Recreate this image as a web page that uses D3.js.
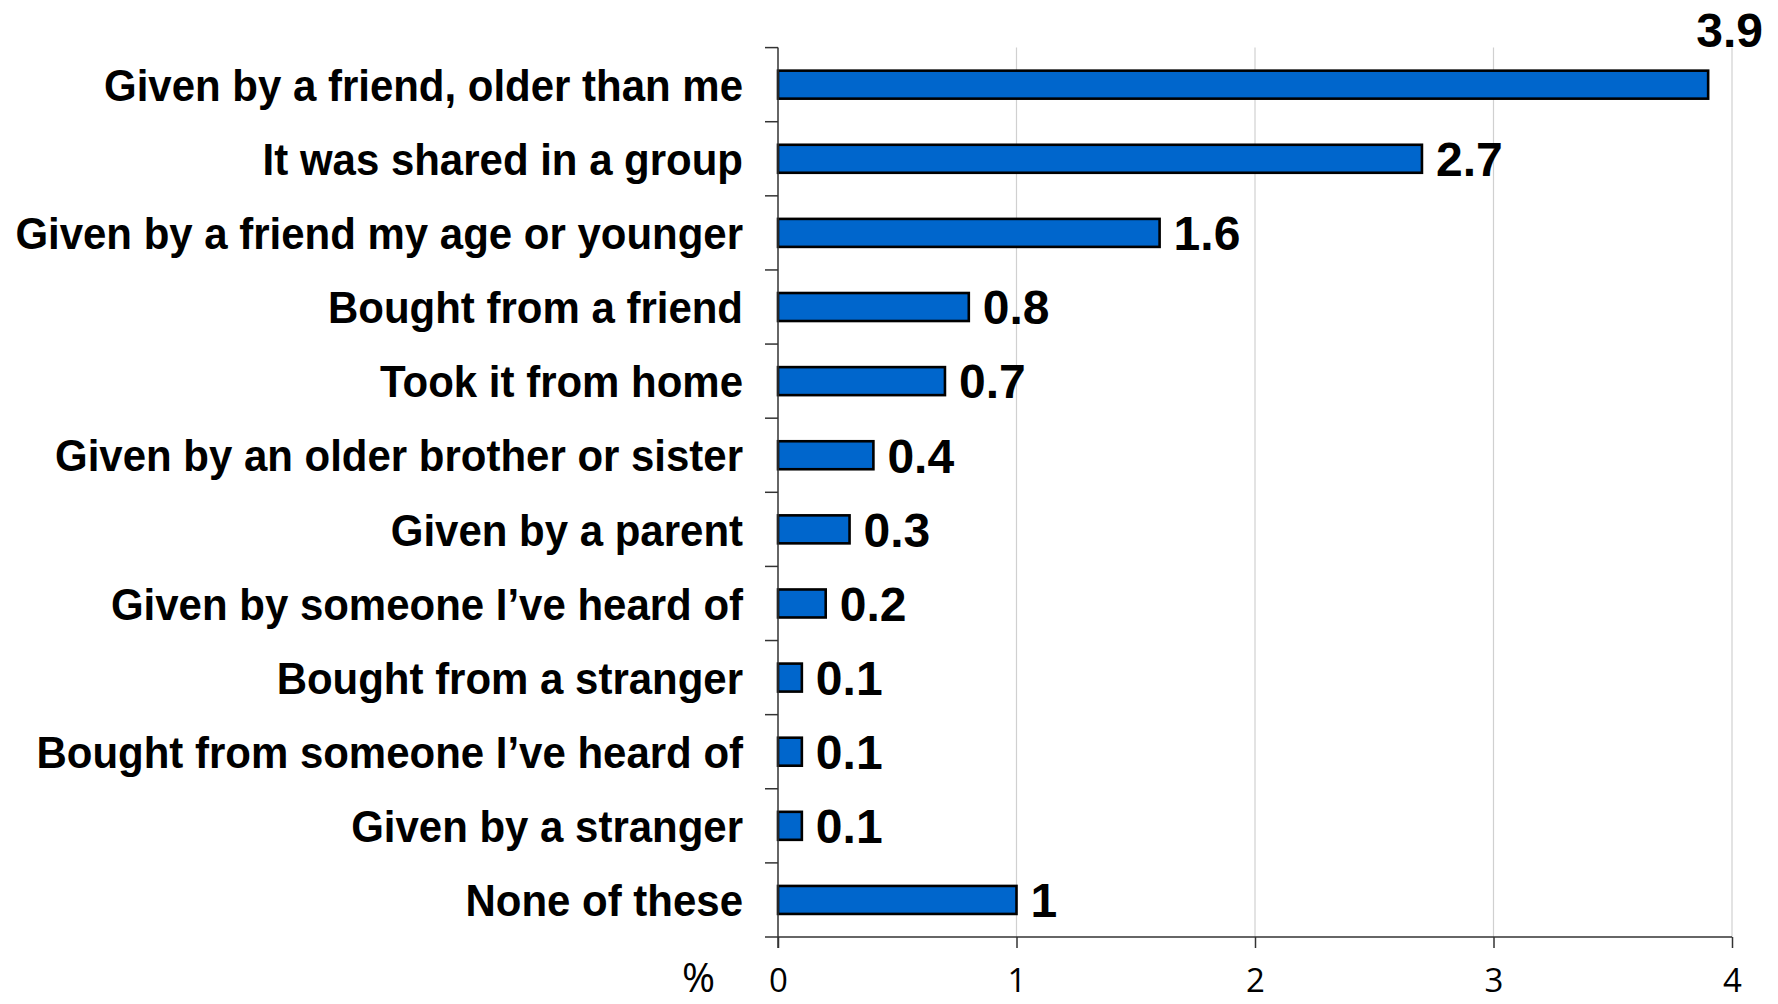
<!DOCTYPE html>
<html><head><meta charset="utf-8">
<script src="https://cdn.jsdelivr.net/npm/d3@7"></script>
<style>body{margin:0;background:#fff;} svg{display:block;}</style>
</head><body>
<svg id="chart" width="1778" height="1004"></svg>
<script>
const categories = [
  "Given by a friend, older than me",
  "It was shared in a group",
  "Given by a friend my age or younger",
  "Bought from a friend",
  "Took it from  home",
  "Given by an older brother or sister",
  "Given by a parent",
  "Given by someone I\u2019ve heard of",
  "Bought from a stranger",
  "Bought from someone I\u2019ve heard of",
  "Given by a stranger",
  "None of these"
];
const values = [3.9, 2.7, 1.6, 0.8, 0.7, 0.4, 0.3, 0.2, 0.1, 0.1, 0.1, 1];
const valueLabels = ["3.9","2.7","1.6","0.8","0.7","0.4","0.3","0.2","0.1","0.1","0.1","1"];
const xTicks = [0, 1, 2, 3, 4];
const axisUnit = "%";

const W = 1778, H = 1004;
const m = {left: 778, right: 46, top: 47.6, bottom: 67};
const FONT = "Liberation Sans, Arial, sans-serif";
const svg = d3.select("#chart");
const x = d3.scaleLinear().domain([0, 4]).range([m.left, W - m.right]);
const yb = d3.scaleBand().domain(categories).range([m.top, H - m.bottom]);

// gridlines
svg.append("g").selectAll("line").data(xTicks.filter(d => d > 0)).join("line")
  .attr("x1", d => x(d)).attr("x2", d => x(d))
  .attr("y1", m.top).attr("y2", H - m.bottom)
  .attr("stroke", "#d0d0d0").attr("stroke-width", 1.2);

// bars
svg.append("g").selectAll("rect").data(values).join("rect")
  .attr("x", x(0))
  .attr("y", (d, i) => yb(categories[i]) + yb.bandwidth() / 2 - 14)
  .attr("width", d => x(d) - x(0))
  .attr("height", 28)
  .attr("fill", "#0066CC")
  .attr("stroke", "#000").attr("stroke-width", 2.6);

// y axis
const yAxisG = svg.append("g");
yAxisG.append("line").attr("x1", x(0)).attr("x2", x(0)).attr("y1", m.top).attr("y2", H - m.bottom + 11)
  .attr("stroke", "#333").attr("stroke-width", 1.5);
const bounds = categories.map(c => yb(c));
yAxisG.selectAll("line.t").data(bounds).join("line").attr("class", "t")
  .attr("x1", x(0) - 13).attr("x2", x(0)).attr("y1", d => d).attr("y2", d => d)
  .attr("stroke", "#333").attr("stroke-width", 1.5);

// category labels (slightly condensed)
svg.append("g").selectAll("text").data(categories).join("text")
  .attr("transform", d => `translate(${x(0) - 35},${yb(d) + yb.bandwidth() / 2}) scale(0.933,1)`)
  .attr("dy", "0.36em")
  .attr("text-anchor", "end")
  .attr("font-family", FONT)
  .attr("font-weight", "bold")
  .attr("font-size", 45)
  .attr("fill", "#000")
  .text(d => d);

// x axis
const xAxis = d3.axisBottom(x).tickValues(xTicks).tickSize(11).tickFormat(d3.format("d"));
const xg = svg.append("g").attr("transform", `translate(0,${H - m.bottom})`).call(xAxis);
xg.select(".domain").attr("d", `M${x(0) - 13},0H${x(4)}`).attr("stroke", "#333").attr("stroke-width", 1.5);
xg.selectAll(".tick line").attr("stroke", "#333").attr("stroke-width", 1.5);
xg.selectAll(".tick text").attr("font-family", "Open Sans, sans-serif")
  .attr("font-size", 33).attr("fill", "#000").attr("y", 55).attr("dy", null);
svg.append("text").attr("x", 715).attr("y", H - m.bottom + 55)
  .attr("text-anchor", "end")
  .attr("font-family", "Open Sans, sans-serif").attr("font-size", 40).attr("fill", "#000")
  .text(axisUnit);

// value labels
svg.append("g").selectAll("text").data(values).join("text")
  .each(function(d, i) {
    const t = d3.select(this)
      .attr("font-family", FONT)
      .attr("font-weight", "bold").attr("font-size", 48).attr("fill", "#000")
      .text(valueLabels[i]);
    const w = this.getComputedTextLength();
    const cy = yb(categories[i]) + yb.bandwidth() / 2;
    const xs = x(d) + 14;
    if (xs + w > W - 10) {
      t.attr("x", W - 15).attr("text-anchor", "end").attr("y", m.top - 1);
    } else {
      t.attr("x", xs).attr("y", cy).attr("dy", "0.36em");
    }
  });
</script>
</body></html>
